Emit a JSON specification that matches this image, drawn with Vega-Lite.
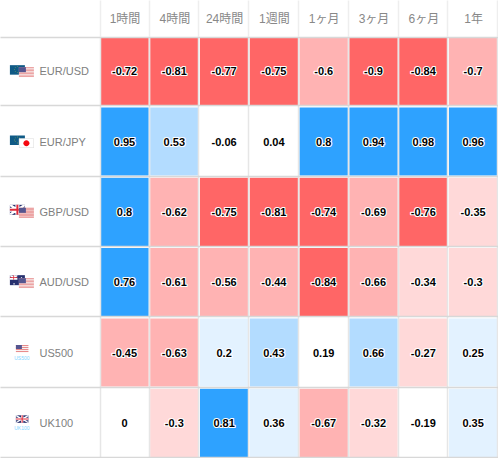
{
"$schema":"https://vega.github.io/schema/vega-lite/v6.json",
"width":498,"height":422,
"autosize":{"type":"none"},
"padding":{"left":0,"top":36,"right":0,"bottom":0},
"background":"white",
"config":{"view":{"stroke":null},"font":"Liberation Sans, Noto Sans CJK JP"},
"datasets":{
"cells":[
{"symbol":"EUR/USD","period":"1時間","v":-0.72},{"symbol":"EUR/USD","period":"4時間","v":-0.81},{"symbol":"EUR/USD","period":"24時間","v":-0.77},{"symbol":"EUR/USD","period":"1週間","v":-0.75},{"symbol":"EUR/USD","period":"1ヶ月","v":-0.6},{"symbol":"EUR/USD","period":"3ヶ月","v":-0.9},{"symbol":"EUR/USD","period":"6ヶ月","v":-0.84},{"symbol":"EUR/USD","period":"1年","v":-0.7},
{"symbol":"EUR/JPY","period":"1時間","v":0.95},{"symbol":"EUR/JPY","period":"4時間","v":0.53},{"symbol":"EUR/JPY","period":"24時間","v":-0.06},{"symbol":"EUR/JPY","period":"1週間","v":0.04},{"symbol":"EUR/JPY","period":"1ヶ月","v":0.8},{"symbol":"EUR/JPY","period":"3ヶ月","v":0.94},{"symbol":"EUR/JPY","period":"6ヶ月","v":0.98},{"symbol":"EUR/JPY","period":"1年","v":0.96},
{"symbol":"GBP/USD","period":"1時間","v":0.8},{"symbol":"GBP/USD","period":"4時間","v":-0.62},{"symbol":"GBP/USD","period":"24時間","v":-0.75},{"symbol":"GBP/USD","period":"1週間","v":-0.81},{"symbol":"GBP/USD","period":"1ヶ月","v":-0.74},{"symbol":"GBP/USD","period":"3ヶ月","v":-0.69},{"symbol":"GBP/USD","period":"6ヶ月","v":-0.76},{"symbol":"GBP/USD","period":"1年","v":-0.35},
{"symbol":"AUD/USD","period":"1時間","v":0.76},{"symbol":"AUD/USD","period":"4時間","v":-0.61},{"symbol":"AUD/USD","period":"24時間","v":-0.56},{"symbol":"AUD/USD","period":"1週間","v":-0.44},{"symbol":"AUD/USD","period":"1ヶ月","v":-0.84},{"symbol":"AUD/USD","period":"3ヶ月","v":-0.66},{"symbol":"AUD/USD","period":"6ヶ月","v":-0.34},{"symbol":"AUD/USD","period":"1年","v":-0.3},
{"symbol":"US500","period":"1時間","v":-0.45},{"symbol":"US500","period":"4時間","v":-0.63},{"symbol":"US500","period":"24時間","v":0.2},{"symbol":"US500","period":"1週間","v":0.43},{"symbol":"US500","period":"1ヶ月","v":0.19},{"symbol":"US500","period":"3ヶ月","v":0.66},{"symbol":"US500","period":"6ヶ月","v":-0.27},{"symbol":"US500","period":"1年","v":0.25},
{"symbol":"UK100","period":"1時間","v":0},{"symbol":"UK100","period":"4時間","v":-0.3},{"symbol":"UK100","period":"24時間","v":0.81},{"symbol":"UK100","period":"1週間","v":0.36},{"symbol":"UK100","period":"1ヶ月","v":-0.67},{"symbol":"UK100","period":"3ヶ月","v":-0.32},{"symbol":"UK100","period":"6ヶ月","v":-0.19},{"symbol":"UK100","period":"1年","v":0.35}
],
"flags":[
{"symbol":"EUR/USD","period":"flag","part":"eu_bg"},{"symbol":"EUR/USD","period":"flag","part":"eu_ring"},{"symbol":"EUR/USD","period":"flag","part":"us_w"},{"symbol":"EUR/USD","period":"flag","part":"us_r"},{"symbol":"EUR/USD","period":"flag","part":"us_c"},
{"symbol":"EUR/JPY","period":"flag","part":"eu_bg"},{"symbol":"EUR/JPY","period":"flag","part":"eu_ring"},{"symbol":"EUR/JPY","period":"flag","part":"jp_w"},{"symbol":"EUR/JPY","period":"flag","part":"jp_b"},{"symbol":"EUR/JPY","period":"flag","part":"jp_d"},
{"symbol":"GBP/USD","period":"flag","part":"gb_bg"},{"symbol":"GBP/USD","period":"flag","part":"gb_w"},{"symbol":"GBP/USD","period":"flag","part":"gb_r"},{"symbol":"GBP/USD","period":"flag","part":"us_w"},{"symbol":"GBP/USD","period":"flag","part":"us_r"},{"symbol":"GBP/USD","period":"flag","part":"us_c"},
{"symbol":"AUD/USD","period":"flag","part":"gb_bg"},{"symbol":"AUD/USD","period":"flag","part":"au_w"},{"symbol":"AUD/USD","period":"flag","part":"au_r"},{"symbol":"AUD/USD","period":"flag","part":"us_w"},{"symbol":"AUD/USD","period":"flag","part":"us_r"},{"symbol":"AUD/USD","period":"flag","part":"us_c"},
{"symbol":"US500","period":"flag","part":"sus_w"},{"symbol":"US500","period":"flag","part":"sus_r"},{"symbol":"US500","period":"flag","part":"sus_c"},
{"symbol":"UK100","period":"flag","part":"sgb_bg"},{"symbol":"UK100","period":"flag","part":"sgb_w"},{"symbol":"UK100","period":"flag","part":"sgb_r"}
],
"tags":[{"symbol":"US500","period":"flag","tag":"US500"},{"symbol":"UK100","period":"flag","tag":"UK100"}]
},
"encoding":{
"x":{"field":"period","type":"nominal","scale":{"domain":["flag","label","1時間","4時間","24時間","1週間","1ヶ月","3ヶ月","6ヶ月","1年"],"paddingInner":0.03,"paddingOuter":0.015},
"axis":{"orient":"top","title":null,"values":["1時間","4時間","24時間","1週間","1ヶ月","3ヶ月","6ヶ月","1年"],"labelAngle":0,"labelFontSize":12,"labelColor":"#888888","labelBaseline":"middle","labelPadding":-18,"ticks":true,"tickSize":36,"tickColor":"#eeeeee","tickWidth":1.5,"domain":false,"grid":true,"gridColor":"#e6e6e6","gridWidth":1.5,"tickBand":"extent","labelFont":"Liberation Sans, Noto Sans CJK JP"}},
"y":{"field":"symbol","type":"nominal","scale":{"domain":["EUR/USD","EUR/JPY","GBP/USD","AUD/USD","US500","UK100"],"paddingInner":0.03,"paddingOuter":0.015},
"axis":{"orient":"left","title":null,"labelAlign":"left","labelPadding":-39,"labelOffset":0.5,"labelFontSize":11,"labelColor":"#808080","ticks":false,"domain":false,"grid":true,"gridColor":"#d8d8d8","gridWidth":1.5,"tickBand":"extent","labelFont":"Liberation Sans"}}
},
"layer":[
{"data":{"name":"cells"},"mark":{"type":"rect"},
 "encoding":{"color":{"field":"v","type":"quantitative","legend":null,"scale":{"type":"threshold","domain":[-0.7,-0.4,-0.2,0.2,0.4,0.7],"range":["#ff6666","#ffb3b3","#ffd9d9","#ffffff","#e3f2ff","#b3dcff","#2ea2ff"]}}}},
{"data":{"name":"cells"},"mark":{"type":"text","font":"Liberation Sans","fontWeight":"bold","fontSize":11,"stroke":"#ffffff","strokeWidth":2.2,"strokeJoin":"round","fill":"#ffffff","dy":1},
 "encoding":{"text":{"field":"v","type":"nominal"}}},
{"data":{"name":"cells"},"mark":{"type":"text","font":"Liberation Sans","fontWeight":"bold","fontSize":11,"fill":"#000000","dy":1},
 "encoding":{"text":{"field":"v","type":"nominal"}}},
{"data":{"name":"flags"},"mark":{"type":"point","filled":true,"size":4,"opacity":1,"strokeWidth":0},
 "encoding":{
 "shape":{"field":"part","type":"nominal","legend":null,"scale":{
 "domain":["eu_bg","eu_ring","us_w","us_r","us_c","jp_w","jp_b","jp_d","gb_bg","gb_w","gb_r","au_w","au_r","sus_w","sus_r","sus_c","sgb_bg","sgb_w","sgb_r"],
 "range":[
 "M-15-6H0V3.5H-15Z",
 "M-7.9-4.9h.8v.8h-.8ZM-5.8-4h.8v.8h-.8ZM-4.9-1.9h.8v.8h-.8ZM-5.8.2h.8v.8h-.8ZM-7.9 1.1h.8v.8h-.8ZM-10-.2h.8v.8h-.8ZM-10.9-1.9h.8v.8h-.8ZM-10-4h.8v.8h-.8Z",
 "M-6-4H9V6H-6Z",
 "M-6-4H9V-3.2H-6ZM-6-2.5H9V-1.7H-6ZM-6-1H9V-.2H-6ZM-6 .5H9V1.3H-6ZM-6 2H9V2.8H-6ZM-6 3.5H9V4.3H-6ZM-6 5H9V5.8H-6Z",
 "M-6-4H1V1H-6Z",
 "M-6-3H9V6.5H-6Z",
 "M-6-3H9V6.5H-6ZM-5.5-2.5V6H8.5V-2.5Z",
 "M-1.5 1.8a3 3 0 1 0 6 0a3 3 0 1 0 -6 0Z",
 "M-15-7H0V3H-15Z",
 "M-15-7H-13L0 1.5V3H-2L-15-5.5ZM0-7V-5.5L-13 3H-15V1.5L-2-7ZM-9.5-7H-5.5V-4H0V0H-5.5V3H-9.5V0H-15V-4H-9.5Z",
 "M-8.5-7H-6.5V-3H0V-1H-6.5V3H-8.5V-1H-15V-3H-8.5Z",
 "M-15-7H-13L-7.5-3.5V-2.5H-9L-15-6ZM-7.5-7V-6L-13-2.5H-15V-3.5L-9.5-7ZM-12-7H-10V-4.5H-7.5V-2.5H-15V-4.5H-12ZM-11.5 1h1.3v1.3h-1.3ZM-4-5h1.2v1.2H-4ZM-2-3h1.2v1.2H-2ZM-5-1h1.2v1.2H-5ZM-3.5 1h1.2v1.2h-1.2Z",
 "M-15-5.2H-7.5V-4.4H-15ZM-11.6-7H-10.8V-2.5H-11.6Z",
 "M-9-7.5H3.5V0H-9Z",
 "M-9-7.5H3.5V-6.5H-9ZM-9-5.5H3.5V-4.5H-9ZM-9-3.5H3.5V-2.5H-9ZM-9-1.5H3.5V-.5H-9Z",
 "M-9-7.5H-3V-3.5H-9Z",
 "M-9-7.5H3.5V0H-9Z",
 "M-9-7.5H-8L3.5-.8V0H2.5L-9-6.7ZM3.5-7.5V-6.7L-8 0H-9V-.8L2.5-7.5ZM-3.9-7.5H-1.6V-5H3.5V-2.6H-1.6V0H-3.9V-2.6H-9V-5H-3.9Z",
 "M-3.3-7.5H-2.2V-4.3H3.5V-3.3H-2.2V0H-3.3V-3.3H-9V-4.3H-3.3Z"
 ]}},
 "color":{"field":"part","type":"nominal","legend":null,"scale":{
 "domain":["eu_bg","eu_ring","us_w","us_r","us_c","jp_w","jp_b","jp_d","gb_bg","gb_w","gb_r","au_w","au_r","sus_w","sus_r","sus_c","sgb_bg","sgb_w","sgb_r"],
 "range":["#0f5a86","#6f9a5a","#f8f0f0","#e88c8c","#55558f","#ffffff","#dcdcdc","#f5070f","#26306e","#ffffff","#e02a3a","#ffffff","#e02a3a","#f8f0f0","#e88c8c","#55558f","#26306e","#ffffff","#e02a3a"]}}
 }},
{"data":{"name":"tags"},"mark":{"type":"text","font":"Liberation Sans","fontSize":5,"fill":"#7fd6ff","dx":-3,"dy":5.5},
 "encoding":{"text":{"field":"tag","type":"nominal"}}}
]
}
